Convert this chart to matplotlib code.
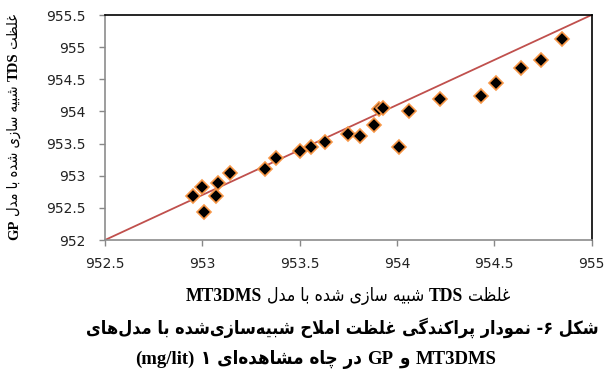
import re
import matplotlib
matplotlib.use("Agg")
import matplotlib.pyplot as plt

# values
mt3dms = [952.95, 953.00, 953.01, 953.07, 953.08, 953.14, 953.32, 953.38,
          953.50, 953.56, 953.63, 953.75, 953.81, 953.88, 953.91, 953.93,
          954.01, 954.06, 954.22, 954.43, 954.51, 954.64, 954.74, 954.85]
gp = [952.69, 952.83, 952.43, 952.69, 952.89, 953.04, 953.11, 953.27,
      953.39, 953.45, 953.52, 953.65, 953.62, 953.79, 954.04, 954.06,
      953.45, 954.00, 954.20, 954.24, 954.44, 954.68, 954.80, 955.12]
ref_x = [952.5, 955.0]
ref_y = [952.0, 955.5]
xticks = [952.5, 953, 953.5, 954, 954.5, 955]
yticks = [952, 952.5, 953, 953.5, 954, 954.5, 955, 955.5]

ylabel_txt = "غلظت TDS شبیه سازی شده با مدل GP"
xlabel_txt = "غلظت TDS شبیه سازی شده با مدل MT3DMS"
cap1 = "شکل ۶- نمودار پراکندگی غلظت املاح شبیه\u200cسازی\u200cشده با مدل\u200cهای"
cap2 = "MT3DMS و GP در چاه مشاهده\u200cای ۱ (mg/lit)"

# --- tiny arabic shaping + rtl ordering (matplotlib does no shaping) ---
# letter: (isolated, final, initial, medial); right-joining ones have 2 forms
FORMS = {
    'ا': (0xFE8D, 0xFE8E), 'ب': (0xFE8F, 0xFE90, 0xFE91, 0xFE92),
    'ت': (0xFE95, 0xFE96, 0xFE97, 0xFE98), 'ح': (0xFEA1, 0xFEA2, 0xFEA3, 0xFEA4),
    'د': (0xFEA9, 0xFEAA), 'ر': (0xFEAD, 0xFEAE), 'ز': (0xFEAF, 0xFEB0),
    'س': (0xFEB1, 0xFEB2, 0xFEB3, 0xFEB4), 'ش': (0xFEB5, 0xFEB6, 0xFEB7, 0xFEB8),
    'ظ': (0xFEC5, 0xFEC6, 0xFEC7, 0xFEC8), 'غ': (0xFECD, 0xFECE, 0xFECF, 0xFED0),
    'ل': (0xFEDD, 0xFEDE, 0xFEDF, 0xFEE0), 'م': (0xFEE1, 0xFEE2, 0xFEE3, 0xFEE4),
    'ن': (0xFEE5, 0xFEE6, 0xFEE7, 0xFEE8), 'ه': (0xFEE9, 0xFEEA, 0xFEEB, 0xFEEC),
    'و': (0xFEED, 0xFEEE), 'پ': (0xFB56, 0xFB57, 0xFB58, 0xFB59),
    'چ': (0xFB7A, 0xFB7B, 0xFB7C, 0xFB7D), 'ک': (0xFB8E, 0xFB8F, 0xFB90, 0xFB91),
    'گ': (0xFB92, 0xFB93, 0xFB94, 0xFB95), 'ی': (0xFBFC, 0xFBFD, 0xFBFE, 0xFBFF),
}


def dual(c):
    return c in FORMS and len(FORMS[c]) == 4


def shape(s):
    out = []
    i = 0
    while i < len(s):
        c = s[i]
        if c not in FORMS:
            if c != '\u200c':
                out.append(c)
            i += 1
            continue
        jp = i > 0 and dual(s[i - 1])
        if c == 'ل' and i + 1 < len(s) and s[i + 1] == 'ا':
            out.append(chr(0xFEFC if jp else 0xFEFB))
            i += 2
            continue
        jn = dual(c) and i + 1 < len(s) and s[i + 1] in FORMS
        f = FORMS[c]
        if jp and jn:
            out.append(chr(f[3]))
        elif jp:
            out.append(chr(f[1]))
        elif jn:
            out.append(chr(f[2]))
        else:
            out.append(chr(f[0]))
        i += 1
    return ''.join(out)


MIRROR = {'(': ')', ')': '('}


def rtl(s):
    s = shape(s)
    items = re.findall(r'[A-Za-z0-9][A-Za-z0-9/.]*|.', s)
    return ''.join(MIRROR.get(t, t) for t in reversed(items))


W, H = 607, 381
fig = plt.figure(figsize=(W / 100, H / 100), dpi=100)
renderer = fig.canvas.get_renderer()


def put_label(s, along, base, length, fa_weight, rotation=0):
    """latin words in bold serif, persian in DejaVu; scaled to a pixel length,
    centred at `along`, baseline at `base` (figure pixels from top-left)"""
    vis = rtl(s)
    runs = [r for r in re.split(r'([A-Za-z0-9/()]+)', vis) if r]
    texts = []
    for r in runs:
        if re.match(r'[A-Za-z0-9/()]', r):
            fd = dict(family='Liberation Serif', weight='bold')
        else:
            fd = dict(family='DejaVu Sans', weight=fa_weight,
                      stretch='condensed')
        texts.append(fig.text(0, 0, r, fontsize=10, rotation=rotation,
                              rotation_mode='anchor', ha='left',
                              va='baseline', **fd))

    def sizes():
        out = []
        for t in texts:
            bb = t.get_window_extent(renderer)
            out.append(bb.height if rotation else bb.width)
        return out

    k = length / sum(sizes())
    for t in texts:
        t.set_fontsize(10 * k)
    lens = sizes()
    total = sum(lens)
    if rotation:
        # reads bottom to top: first visual run sits lowest
        y = H - (along + total / 2)
        for t, ln in zip(texts, lens):
            t.set_position((base / W, y / H))
            y += ln
    else:
        x = along - total / 2
        for t, ln in zip(texts, lens):
            t.set_position((x / W, 1 - base / H))
            x += ln


ax = fig.add_axes([105 / W, 1 - 240 / H, 486.5 / W, 225 / H])

ax.plot(ref_x, ref_y, color='#C0504D', lw=1.3, zorder=2)
ax.plot(mt3dms, gp, ls='none', marker='D', ms=7, mfc='black',
        mec='#F79646', mew=1.2, zorder=3)

ax.set_xlim(952.5, 955)
ax.set_ylim(952, 955.5)
ax.set_xticks(xticks)
ax.set_yticks(yticks)
ax.set_xticklabels([f'{v:g}' for v in xticks])
ax.set_yticklabels([f'{v:g}' for v in yticks])
ax.tick_params(direction='out', length=4, color='#888888', labelsize=10,
               labelcolor='#222222', width=1)
ax.tick_params(axis='x', pad=8)
ax.tick_params(axis='y', pad=10)
for side in ('left', 'bottom'):
    ax.spines[side].set_color('#8c8c8c')
    ax.spines[side].set_linewidth(1.2)
for side in ('top', 'right'):
    ax.spines[side].set_color('black')
    ax.spines[side].set_linewidth(1.2)

put_label(ylabel_txt, 127, 18, 227, 'normal', rotation=90)
put_label(xlabel_txt, 348, 301, 324, 'normal')
put_label(cap1, 342, 334, 515, 'bold')
put_label(cap2, 316, 364, 362, 'bold')

fig.savefig('out.png', dpi=100)
